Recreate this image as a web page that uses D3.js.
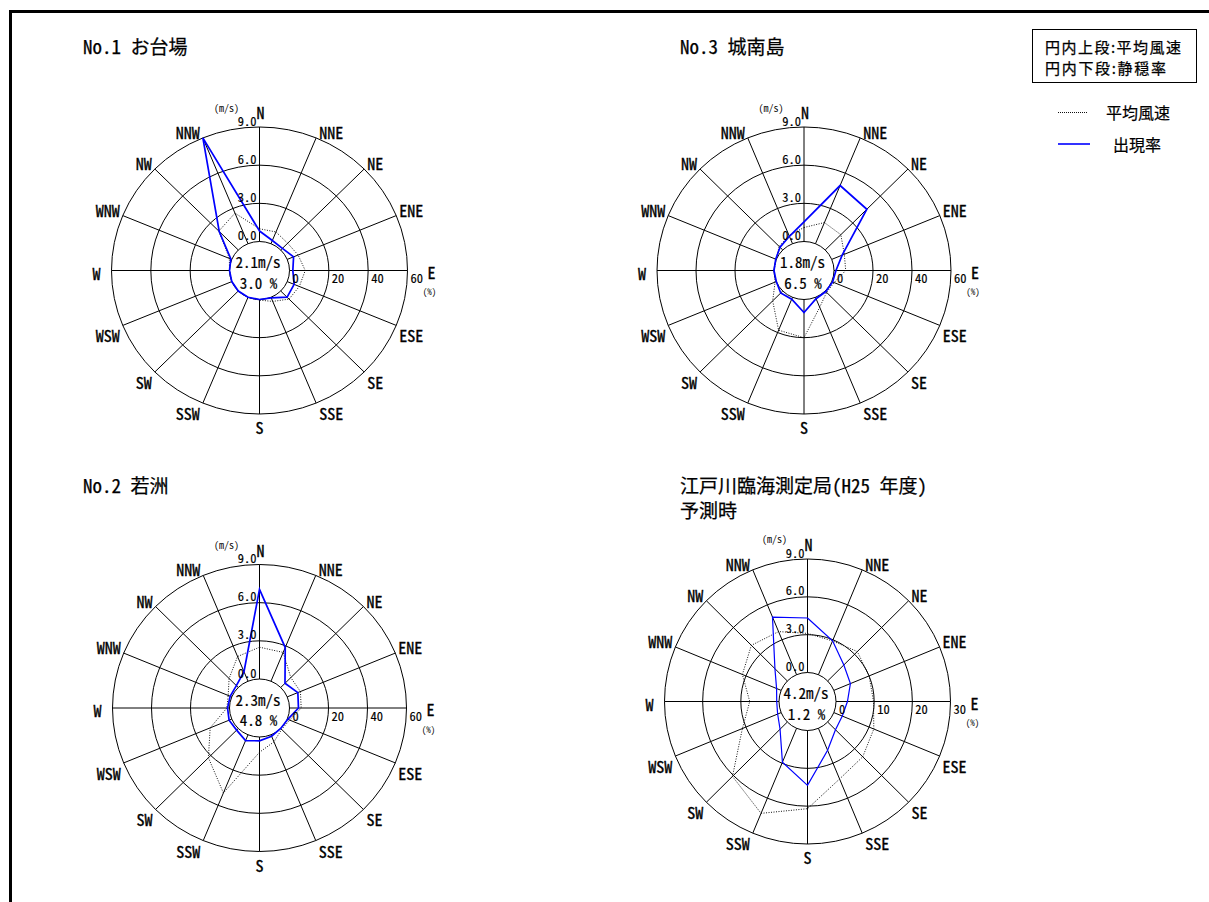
<!DOCTYPE html>
<html>
<head>
<meta charset="utf-8">
<script src="https://cdn.jsdelivr.net/npm/d3@7"></script>
<style>
  html, body { margin: 0; padding: 0; background: #fff; }
  svg { display: block; }
</style>
</head>
<body>
<svg id="chart" width="1209" height="902"></svg>
<script>
// 16 compass directions, clockwise from north
const directions = ["N","NNE","NE","ENE","E","ESE","SE","SSE","S","SSW","SW","WSW","W","WNW","NW","NNW"];

// Ring tick labels
const speedTicks = [0, 3, 6, 9];          // 平均風速 (m/s)
const freqTicks60 = [0, 20, 40, 60];      // 出現率 (%)
const freqTicks30 = [0, 10, 20, 30];

// No.1 お台場
const odaibaFreq  = [5.5, 1.8, 1.2, 3.5, 1.7, 3.8, 4.6, 0.3, 0, 0, 0, 0, 0, 0.5, 13.7, 60.0];
const odaibaSpeed = [1.0, 1.0, 0.75, 0.9, 1.2, 1.0, 0.9, 0.35, 0.05, 0, 0, 0, 0, 0.2, 2.1, 2.6];

// No.3 城南島
const jonanFreq  = [10.3, 33.0, 30.2, 5.8, 1.0, 0.5, 0.4, 0.8, 6.8, 1.1, 1.5, 0, 0, 0.3, 2.0, 4.2];
const jonanSpeed = [1.1, 1.8, 1.7, 1.05, 0.9, 0.2, 0.15, 0.85, 3.0, 2.8, 1.1, 0.1, 0, 0, 0.4, 0.7];

// No.2 若洲
const wakasuFreq  = [47.0, 19.1, 3.1, 5.9, 4.6, 0.3, 0, 0.8, 2.0, 3.3, 1.2, 1.5, 1.0, 0.9, 1.4, 5.4];
const wakasuSpeed = [2.5, 2.45, 1.1, 1.1, 0.9, 0.2, 0.1, 0.6, 1.2, 4.95, 3.25, 1.8, 0.2, 0.3, 1.0, 2.1];

// 江戸川臨海測定局 (H25年度) 予測時
const edogawaFreq  = [14.4, 9.7, 6.0, 4.7, 3.0, 2.4, 2.9, 6.3, 14.5, 9.7, 2.7, 1.0, 0.6, 1.3, 4.6, 16.5];
const edogawaSpeed = [3.1, 2.9, 3.3, 3.0, 2.95, 3.4, 3.9, 4.35, 6.2, 7.3, 6.1, 3.3, 2.3, 3.3, 4.0, 3.7];

// Centre texts: mean wind speed and calm rate
const meanSpeeds = ["2.1m/s", "1.8m/s", "2.3m/s", "4.2m/s"];
const calmRates  = ["3.0 %", "6.5 %", "4.8 %", "1.2 %"];

const titles = [
  ["No.1 お台場"],
  ["No.3 城南島"],
  ["No.2 若洲"],
  ["江戸川臨海測定局(H25 年度)", "予測時"]
];

const MONO = "'Noto Sans Mono CJK JP','Noto Sans CJK JP','DejaVu Sans Mono',monospace";
const JP = "'Noto Sans CJK JP','Noto Sans CJK SC',sans-serif";

const svg = d3.select("#chart");

// Outer frame (left and top edges)
svg.append("path")
  .attr("d", "M10.5,905V11.5H1212")
  .attr("fill", "none")
  .attr("stroke", "#000")
  .attr("stroke-width", 3);

function text(g, x, y, str, size, anchor, family, heavy) {
  const t = g.append("text")
    .attr("x", x).attr("y", y)
    .attr("font-family", family || MONO)
    .attr("font-size", size)
    .attr("text-anchor", anchor || "start")
    .attr("dominant-baseline", "central")
    .attr("fill", "#000")
    .text(str);
  if (heavy) t.attr("stroke", "#000").attr("stroke-width", heavy);
  return t;
}

const layouts = [
  { cx: 259.5, cy: 270.5, r0x: 30, Rx: 148, r0y: 29, Ry: 143.5, titleX: 83, titleY: 45,
    freq: odaibaFreq, speed: odaibaSpeed, fTicks: freqTicks60, blueW: 1.7 },
  { cx: 804, cy: 270.5, r0x: 30, Rx: 147, r0y: 29, Ry: 143.5, titleX: 680, titleY: 45,
    freq: jonanFreq, speed: jonanSpeed, fTicks: freqTicks60, blueW: 1.7 },
  { cx: 259.5, cy: 708, r0x: 30, Rx: 147, r0y: 29, Ry: 143.5, titleX: 83, titleY: 484,
    freq: wakasuFreq, speed: wakasuSpeed, fTicks: freqTicks60, blueW: 1.7 },
  { cx: 807.5, cy: 701.5, r0x: 28.5, Rx: 143, r0y: 29, Ry: 142.5, titleX: 680, titleY: 484,
    freq: edogawaFreq, speed: edogawaSpeed, fTicks: freqTicks30, blueW: 1.2 }
];

layouts.forEach((L, k) => {
  const g = svg.append("g");
  const ang = i => i * Math.PI / 8;
  const sMax = speedTicks[speedTicks.length - 1];
  const fMax = L.fTicks[L.fTicks.length - 1];

  // radial scales (slightly wider horizontally than vertically)
  const spX = d3.scaleLinear().domain([0, sMax]).range([L.r0x, L.Rx]);
  const spY = d3.scaleLinear().domain([0, sMax]).range([L.r0y, L.Ry]);
  const frX = d3.scaleLinear().domain([0, fMax]).range([L.r0x, L.Rx]);
  const frY = d3.scaleLinear().domain([0, fMax]).range([L.r0y, L.Ry]);

  // title
  titles[k].forEach((s, j) => text(g, L.titleX, L.titleY + j * 25, s, 19, "start", MONO, 0.25));

  // rings
  g.selectAll("ellipse.ring").data(speedTicks).join("ellipse")
    .attr("class", "ring")
    .attr("cx", L.cx).attr("cy", L.cy)
    .attr("rx", d => spX(d)).attr("ry", d => spY(d))
    .attr("fill", (d, i) => i === 0 ? "#fff" : "none")
    .attr("stroke", "#000").attr("stroke-width", 1);

  // spokes
  g.selectAll("line.spoke").data(directions).join("line")
    .attr("class", "spoke")
    .attr("x1", (d, i) => L.cx + spX(0) * Math.sin(ang(i)))
    .attr("y1", (d, i) => L.cy - spY(0) * Math.cos(ang(i)))
    .attr("x2", (d, i) => L.cx + spX(sMax) * Math.sin(ang(i)))
    .attr("y2", (d, i) => L.cy - spY(sMax) * Math.cos(ang(i)))
    .attr("stroke", "#000").attr("stroke-width", 1);

  // mean wind speed polygon (dotted)
  const speedLine = d3.line()
    .x((d, i) => L.cx + spX(d) * Math.sin(ang(i)))
    .y((d, i) => L.cy - spY(d) * Math.cos(ang(i)))
    .curve(d3.curveLinearClosed);
  g.append("path")
    .attr("d", speedLine(L.speed))
    .attr("fill", "none")
    .attr("stroke", "#111").attr("stroke-width", 1)
    .attr("stroke-dasharray", "1,1.5");

  // frequency polygon (blue)
  const freqLine = d3.line()
    .x((d, i) => L.cx + frX(d) * Math.sin(ang(i)))
    .y((d, i) => L.cy - frY(d) * Math.cos(ang(i)))
    .curve(d3.curveLinearClosed);
  g.append("path")
    .attr("d", freqLine(L.freq))
    .attr("fill", "none")
    .attr("stroke", "#0000ff").attr("stroke-width", L.blueW)
    .attr("stroke-linejoin", "miter");

  // speed tick labels along the north spoke
  speedTicks.forEach(t => {
    text(g, L.cx - 3, L.cy - spY(t) - 7, t.toFixed(1), 12.5, "end", MONO, 0.15);
  });
  text(g, L.cx - 33, L.cy - 163.5, "(m/s)", 10, "middle");

  // frequency tick labels along the east spoke
  L.fTicks.forEach(t => {
    text(g, L.cx + frX(t) + 3, L.cy + 7, String(t), 12.5, "start", MONO, 0.15);
  });
  text(g, L.cx + L.Rx + 22, L.cy + 21, "(%)", 9, "middle");

  // direction labels
  directions.forEach((d, i) => {
    const s = Math.sin(ang(i)), c = Math.cos(ang(i));
    const ex = L.cx + L.Rx * s, ey = L.cy - L.Ry * c;
    let x, y, anchor;
    if (d === "N") { x = L.cx + 1; y = L.cy - L.Ry - 15; anchor = "middle"; }
    else if (d === "S") { x = L.cx; y = L.cy + L.Ry + 13; anchor = "middle"; }
    else if (d === "E") { x = L.cx + L.Rx + 20; y = L.cy + 1; anchor = "start"; }
    else if (d === "W") { x = L.cx - L.Rx - 11; y = L.cy + 2; anchor = "end"; }
    else {
      anchor = s > 0 ? "start" : "end";
      x = ex + (s > 0 ? 3 : -3);
      y = ey + (c > 0 ? -6 : 10);
    }
    text(g, x, y, d, 16, anchor, MONO, 0.35);
  });

  // centre texts
  text(g, L.cx - 1.5, L.cy - 9, meanSpeeds[k], 15, "middle", MONO, 0.2);
  text(g, L.cx - 1, L.cy + 11.5, calmRates[k], 15, "middle", MONO, 0.2);
});

// Legend
const lg = svg.append("g");
lg.append("rect")
  .attr("x", 1032.5).attr("y", 29.5).attr("width", 164).attr("height", 53)
  .attr("fill", "#fff").attr("stroke", "#000").attr("stroke-width", 1);
text(lg, 1045, 46.5, "円内上段:平均風速", 15, "start", JP, 0.25)
  .attr("textLength", 136).attr("lengthAdjust", "spacing");
text(lg, 1045, 67.5, "円内下段:静穏率", 15, "start", JP, 0.25)
  .attr("textLength", 121).attr("lengthAdjust", "spacing");
lg.append("line")
  .attr("x1", 1058).attr("x2", 1088).attr("y1", 112.5).attr("y2", 112.5)
  .attr("stroke", "#111").attr("stroke-width", 1).attr("stroke-dasharray", "1,1");
text(lg, 1106, 112, "平均風速", 16, "start", JP, 0.2);
lg.append("line")
  .attr("x1", 1058).attr("x2", 1090).attr("y1", 144).attr("y2", 144)
  .attr("stroke", "#0000ff").attr("stroke-width", 1.6);
text(lg, 1113, 144, "出現率", 16, "start", JP, 0.2);
</script>
</body>
</html>
